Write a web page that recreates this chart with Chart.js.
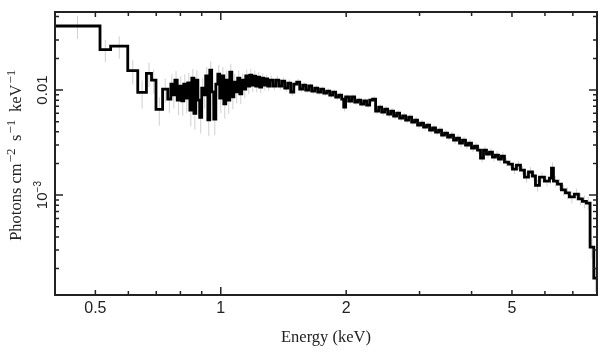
<!DOCTYPE html>
<html><head><meta charset="utf-8">
<script src="https://cdn.jsdelivr.net/npm/chart.js@4/dist/chart.umd.min.js"></script>
<style>html,body{margin:0;padding:0;background:#fff;}#wrap{width:609px;height:357px;}</style>
</head><body><div id="wrap"><canvas id="c" width="609" height="357"></canvas></div>
<script>
// ---- data (energies in keV: left edge of each bin; last right edge separate) ----
const binLo = [
 0.400,0.513,0.544,0.598,0.632,0.663,0.682,0.699,0.725,0.746,
 0.759,0.767,0.776,0.786,0.797,0.806,0.815,0.824,0.833,0.843,
 0.852,0.862,0.871,0.881,0.890,0.900,0.910,0.920,0.931,0.941,
 0.951,0.962,0.973,0.984,0.994,1.006,1.017,1.028,1.039,1.051,
 1.063,1.075,1.086,1.098,1.111,1.123,1.136,1.148,1.161,1.174,
 1.187,1.200,1.213,1.227,1.240,1.254,1.268,1.282,1.296,1.311,
 1.333,1.355,1.378,1.401,1.424,1.448,1.472,1.497,1.522,1.547,
 1.573,1.599,1.626,1.653,1.681,1.709,1.737,1.766,1.796,1.826,
 1.856,1.887,1.919,1.951,1.973,1.994,2.028,2.061,2.096,2.131,
 2.166,2.203,2.239,2.277,2.315,2.353,2.393,2.433,2.473,2.515,
 2.557,2.599,2.643,2.687,2.732,2.777,2.824,2.871,2.919,2.967,
 3.017,3.067,3.119,3.171,3.224,3.277,3.332,3.388,3.444,3.502,
 3.560,3.620,3.680,3.742,3.804,3.868,3.932,3.998,4.065,4.133,
 4.202,4.272,4.343,4.416,4.489,4.564,4.641,4.718,4.797,4.905,
 5.014,5.126,5.241,5.358,5.478,5.600,5.694,5.821,5.984,6.151,
 6.220,6.289,6.430,6.573,6.720,6.869,7.060,7.220,7.380,7.545,
 7.700,7.860
];
const lastEdge = 8.0;
// photons cm^-2 s^-1 keV^-1
const flux = [
 0.0407,0.0242,0.0262,0.0153,0.0095,0.0144,0.01245,0.00655,0.0102,0.0082,
 0.0114,0.0090,0.01245,0.0080,0.0109,0.0079,0.0114,0.0084,0.0117,0.00645,
 0.0130,0.0060,0.01245,0.0080,0.0055,0.01045,0.0090,0.0136,0.0052,0.0155,
 0.0096,0.0053,0.0114,0.0142,0.0084,0.0136,0.0074,0.01245,0.0080,0.0148,
 0.0086,0.0119,0.0096,0.0130,0.0092,0.01245,0.0102,0.0136,0.0109,0.01389,
 0.01116,0.01359,0.01092,0.01329,0.01068,0.01301,0.01116,0.01273,0.01092,0.01245,
 0.01092,0.01245,0.01092,0.01218,0.01045,0.01166,0.00957,0.01140,0.01191,0.01022,
 0.01116,0.0100,0.01092,0.00978,0.01045,0.00957,0.01022,0.00936,0.00978,0.00896,
 0.00957,0.00858,0.00896,0.00821,0.00689,0.00858,0.00786,0.00858,0.00769,0.00803,
 0.00736,0.00786,0.00720,0.00803,0.00821,0.00631,0.00689,0.00617,0.00659,0.00591,
 0.00631,0.00566,0.00604,0.00541,0.00566,0.00518,0.00553,0.00496,0.00518,0.00464,
 0.00485,0.00444,0.00464,0.00416,0.00435,0.00398,0.00416,0.00373,0.00389,0.00357,
 0.00373,0.00334,0.00349,0.00313,0.00334,0.00299,0.00313,0.00280,0.00293,0.00268,
 0.00225,0.00268,0.00246,0.00257,0.00230,0.00240,0.00220,0.00235,0.00206,0.00197,
 0.00177,0.00193,0.00173,0.00148,0.00166,0.00152,0.00124,0.00148,0.00136,0.00145,
 0.00181,0.00136,0.00127,0.00112,0.00105,0.00096,0.00102,0.00092,0.00087,0.00084,
 0.00032,0.000162
];
// relative 1-sigma uncertainty of each bin
const relErr = [
 0.25,0.24,0.24,0.26,0.30,0.26,0.26,0.30,0.26,0.26,
 0.24,0.26,0.22,0.28,0.24,0.28,0.24,0.28,0.24,0.30,
 0.22,0.30,0.24,0.28,0.30,0.24,0.26,0.22,0.30,0.22,
 0.26,0.30,0.24,0.22,0.28,0.22,0.28,0.22,0.26,0.20,
 0.24,0.20,0.22,0.18,0.20,0.16,0.18,0.15,0.16,0.14,
 0.14,0.13,0.13,0.12,0.12,0.11,0.11,0.10,0.10,0.10,
 0.09,0.09,0.08,0.08,0.08,0.08,0.08,0.07,0.07,0.07,
 0.06,0.06,0.06,0.06,0.06,0.06,0.06,0.06,0.06,0.06,
 0.06,0.06,0.06,0.06,0.09,0.06,0.06,0.06,0.06,0.06,
 0.06,0.06,0.06,0.06,0.06,0.07,0.07,0.07,0.07,0.07,
 0.07,0.07,0.07,0.07,0.07,0.07,0.07,0.07,0.07,0.07,
 0.07,0.07,0.07,0.07,0.07,0.07,0.07,0.07,0.07,0.07,
 0.08,0.08,0.08,0.08,0.08,0.08,0.08,0.08,0.08,0.08,
 0.09,0.08,0.08,0.08,0.09,0.09,0.09,0.09,0.09,0.09,
 0.10,0.10,0.10,0.11,0.11,0.11,0.13,0.11,0.11,0.12,
 0.13,0.12,0.12,0.12,0.13,0.13,0.13,0.13,0.14,0.14,
 0.22,0.26
];
// axes
const xRange = [0.4, 8.0];
const yRange = [1.12e-4, 0.0553];
const xLabelTicks = [0.5, 1, 2, 5];
const xDecadeTicks = [1];
const xMinorTicks = [0.6, 0.7, 0.8, 0.9, 3, 4, 6, 7];
const yLabelTicks = [0.01, 0.001];
const yLabelText = [['0.01', ''], ['10', '\u22123']];
const yMinorTicks = [0.05, 0.03, 0.02, 0.009, 0.008, 0.007, 0.006, 0.005, 0.004, 0.003, 0.002,
                     0.0009, 0.0008, 0.0007, 0.0006, 0.0005, 0.0004, 0.0003, 0.0002];
const xTitle = 'Energy (keV)';
const yTitleParts = [['Photons cm', 0], ['\u22122', 1], [' s', 0], ['\u22121', 1], [' keV', 0], ['\u22121', 1]];

// ---- build datasets from the arrays ----
const stepPts = binLo.map((e, i) => ({x: e, y: flux[i]}));
stepPts.push({x: lastEdge, y: flux[flux.length - 1]});
const errPts = [];
binLo.forEach((e, i) => {
  const hi = i + 1 < binLo.length ? binLo[i + 1] : lastEdge;
  const c = Math.sqrt(e * hi);
  errPts.push({x: c, y: flux[i] * (1 - relErr[i])});
  errPts.push({x: c, y: flux[i] * (1 + relErr[i])});
  errPts.push({x: c, y: null});
});

const INK = '#222';
const SANS = '"Liberation Sans", Arial, sans-serif';
const SERIF = '"Liberation Serif", "Times New Roman", serif';
const frame = {
  id: 'frame',
  afterDatasetsDraw(chart) {
    const {ctx, chartArea: a, scales: {x, y}} = chart;
    ctx.save();
    ctx.strokeStyle = INK;
    ctx.lineWidth = 1.5;
    const xt = (v, len) => {
      const p = x.getPixelForValue(v);
      ctx.beginPath();
      ctx.moveTo(p, a.bottom); ctx.lineTo(p, a.bottom - len);
      ctx.moveTo(p, a.top); ctx.lineTo(p, a.top + len);
      ctx.stroke();
    };
    const yt = (v, len) => {
      const p = y.getPixelForValue(v);
      ctx.beginPath();
      ctx.moveTo(a.left, p); ctx.lineTo(a.left + len, p);
      ctx.moveTo(a.right, p); ctx.lineTo(a.right - len, p);
      ctx.stroke();
    };
    xMinorTicks.forEach(v => xt(v, 4));
    xLabelTicks.forEach(v => xt(v, xDecadeTicks.includes(v) ? 8 : 5));
    yMinorTicks.forEach(v => yt(v, 4));
    yLabelTicks.forEach(v => yt(v, 8));
    ctx.lineWidth = 2;
    ctx.strokeRect(a.left, a.top, a.right - a.left, a.bottom - a.top);
    ctx.restore();
  },
  afterDraw(chart) {
    const {ctx, chartArea: a, scales: {y}} = chart;
    ctx.save();
    ctx.fillStyle = INK;
    // y tick labels (rotated, reading upward)
    yLabelTicks.forEach((v, i) => {
      const [main, sup] = yLabelText[i];
      const p = y.getPixelForValue(v);
      ctx.save();
      ctx.translate(46.5, p);
      ctx.rotate(-Math.PI / 2);
      ctx.textBaseline = 'alphabetic';
      ctx.font = '15px ' + SANS;
      const w1 = ctx.measureText(main).width;
      ctx.font = '10px ' + SANS;
      const w2 = sup ? ctx.measureText(sup).width : 0;
      const sx = -(w1 + w2) / 2;
      ctx.font = '15px ' + SANS;
      ctx.fillText(main, sx, 0);
      if (sup) { ctx.font = '10px ' + SANS; ctx.fillText(sup, sx + w1, -6); }
      ctx.restore();
    });
    // y axis title with superscripts
    ctx.save();
    ctx.translate(21, (a.top + a.bottom) / 2);
    ctx.rotate(-Math.PI / 2);
    ctx.textBaseline = 'alphabetic';
    const fMain = '16.5px ' + SERIF, fSup = '13px ' + SERIF, gapB = 1, gapA = 3.5;
    let tw = 0;
    yTitleParts.forEach(([t, s]) => { ctx.font = s ? fSup : fMain; tw += ctx.measureText(t).width + (s ? gapB + gapA : 0); });
    let cx = -tw / 2;
    yTitleParts.forEach(([t, s]) => {
      ctx.font = s ? fSup : fMain;
      if (s) cx += gapB;
      ctx.fillText(t, cx, s ? -6.5 : 0);
      cx += ctx.measureText(t).width + (s ? gapA : 0);
    });
    ctx.restore();
    ctx.restore();
  }
};

new Chart(document.getElementById('c'), {
  type: 'line',
  data: {
    datasets: [
      {data: stepPts, stepped: 'before', borderColor: '#000', borderWidth: 2.8,
       pointRadius: 0, fill: false, order: 0, borderJoinStyle: 'miter'},
      {data: errPts, borderColor: '#d0d0d0', borderWidth: 1, pointRadius: 0,
       spanGaps: false, fill: false, order: 1}
    ]
  },
  options: {
    responsive: false, animation: false, devicePixelRatio: 1,
    layout: {padding: {top: 12, right: 12, left: 0, bottom: 0}},
    plugins: {legend: {display: false}, tooltip: {enabled: false}},
    scales: {
      x: {
        type: 'logarithmic', position: 'bottom', min: xRange[0], max: xRange[1],
        grid: {display: false, drawTicks: false}, border: {display: false},
        afterBuildTicks: s => { s.ticks = xLabelTicks.map(v => ({value: v})); },
        afterFit: s => { s.height = 62; },
        ticks: {autoSkip: false, maxRotation: 0, minRotation: 0, padding: 4, color: INK,
                font: {family: SANS, size: 16},
                callback: v => String(v)},
        title: {display: true, text: xTitle, color: INK, padding: {top: 0, bottom: 9},
                font: {family: SERIF, size: 16.5}}
      },
      y: {
        type: 'logarithmic', position: 'left', min: yRange[0], max: yRange[1],
        grid: {display: false, drawTicks: false}, border: {display: false},
        ticks: {display: false},
        afterFit: s => { s.width = 55; }
      }
    }
  },
  plugins: [frame]
});
</script>
</body></html>
